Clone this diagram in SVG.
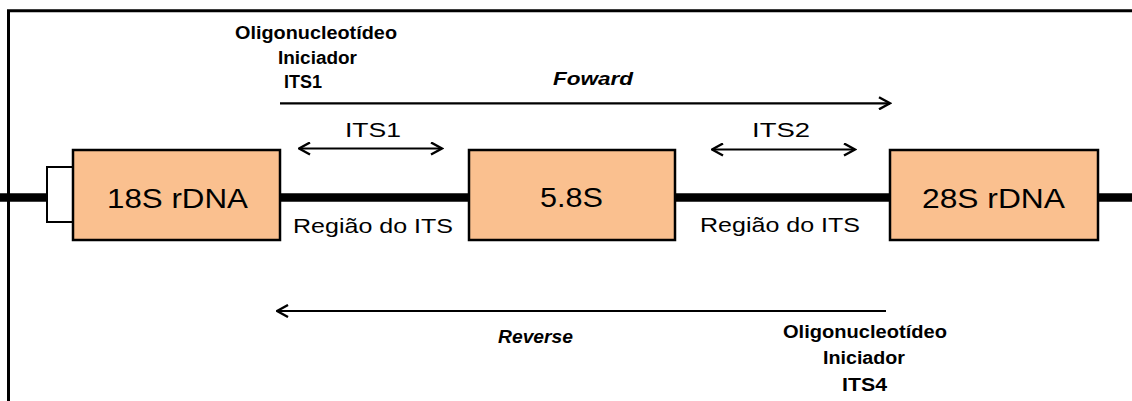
<svg xmlns="http://www.w3.org/2000/svg" width="1132" height="401" viewBox="0 0 1132 401">
<defs>
<style>
.box{fill:#FAC08F;stroke:#000;stroke-width:2.5}
.lbl{font-family:"Liberation Sans",Arial,sans-serif;fill:#000}
.big{font-size:28px}
.mid{font-size:21px}
.sm{font-size:18px;font-weight:bold}
.it{font-style:italic}
.arr{stroke:#000;stroke-width:2.2;fill:none}
</style>
<marker id="ah" viewBox="0 0 14 14" refX="12.5" refY="7" markerWidth="14" markerHeight="14" markerUnits="userSpaceOnUse" orient="auto-start-reverse">
<path d="M1.5,1 L12.5,7 L1.5,13" fill="none" stroke="#000" stroke-width="2.4"/>
</marker>
</defs>
<rect width="1132" height="401" fill="#fff"/>
<g id="frame">
<path d="M8.5,401 V10.7 H1132" fill="none" stroke="#000" stroke-width="3"/>
</g>
<g id="backbone">
<line x1="0" y1="197.5" x2="1132" y2="197.5" stroke="#000" stroke-width="8.5"/>
</g>
<g id="node-flank">
<rect x="47" y="167" width="27" height="55" fill="#fff" stroke="#000" stroke-width="2"/>
</g>
<g id="node-18S">
<rect class="box" x="73" y="150" width="207" height="90"/>
<text class="lbl big" x="107" y="208" textLength="141" lengthAdjust="spacingAndGlyphs">18S rDNA</text>
</g>
<g id="node-58S">
<rect class="box" x="469" y="150" width="206" height="90"/>
<text class="lbl big" x="540" y="207" textLength="63" lengthAdjust="spacingAndGlyphs">5.8S</text>
</g>
<g id="node-28S">
<rect class="box" x="890" y="150" width="208" height="90"/>
<text class="lbl big" x="922" y="208" textLength="143" lengthAdjust="spacingAndGlyphs">28S rDNA</text>
</g>
<g id="connectors">
<line class="arr" x1="280" y1="103.3" x2="890" y2="103.3" marker-end="url(#ah)"/>
<line class="arr" x1="277" y1="311" x2="886" y2="311" marker-start="url(#ah)"/>
<line class="arr" x1="299" y1="148.5" x2="442" y2="148.5" marker-start="url(#ah)" marker-end="url(#ah)"/>
<line class="arr" x1="712" y1="149.5" x2="855" y2="149.5" marker-start="url(#ah)" marker-end="url(#ah)"/>
</g>
<g id="labels">
<text class="lbl mid" x="345" y="137" textLength="56" lengthAdjust="spacingAndGlyphs">ITS1</text>
<text class="lbl mid" x="752" y="137" textLength="58" lengthAdjust="spacingAndGlyphs">ITS2</text>
<text class="lbl mid" x="293" y="233" textLength="160" lengthAdjust="spacingAndGlyphs">Região do ITS</text>
<text class="lbl mid" x="700" y="232" textLength="160" lengthAdjust="spacingAndGlyphs">Região do ITS</text>
<text class="lbl sm it" x="553" y="85" textLength="80" lengthAdjust="spacingAndGlyphs">Foward</text>
<text class="lbl sm it" x="498" y="343" textLength="75" lengthAdjust="spacingAndGlyphs">Reverse</text>
<text class="lbl sm" x="235" y="39" textLength="162" lengthAdjust="spacingAndGlyphs">Oligonucleotídeo</text>
<text class="lbl sm" x="278" y="64" textLength="79" lengthAdjust="spacingAndGlyphs">Iniciador</text>
<text class="lbl sm" x="284" y="88" textLength="38" lengthAdjust="spacingAndGlyphs">ITS1</text>
<text class="lbl sm" x="783" y="338" textLength="164" lengthAdjust="spacingAndGlyphs">Oligonucleotídeo</text>
<text class="lbl sm" x="823" y="364" textLength="82" lengthAdjust="spacingAndGlyphs">Iniciador</text>
<text class="lbl sm" x="842" y="391" textLength="45" lengthAdjust="spacingAndGlyphs">ITS4</text>
</g>
</svg>
